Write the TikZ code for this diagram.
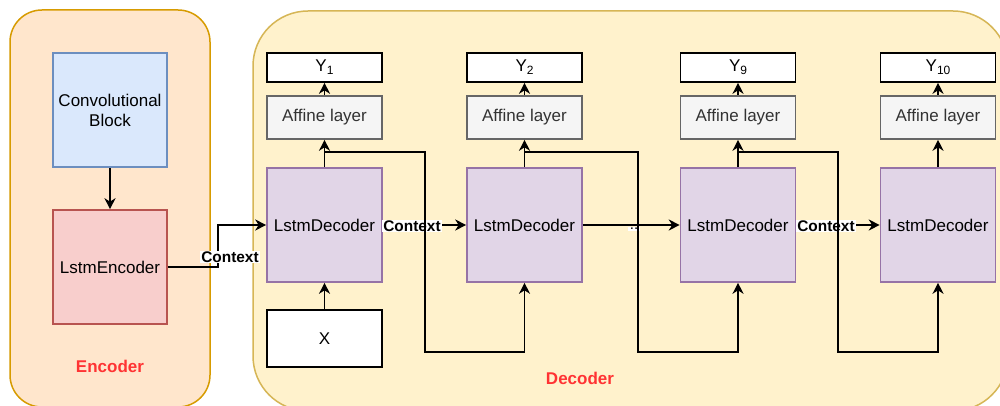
\documentclass[tikz,border=0pt]{standalone}
\usepackage{fontspec}
\setmainfont{Liberation Sans}
\usetikzlibrary{arrows.meta}
\definecolor{encfill}{HTML}{FFE6CC}
\definecolor{encline}{HTML}{D79B00}
\definecolor{decfill}{HTML}{FFF2CC}
\definecolor{decline}{HTML}{D6B656}
\definecolor{convfill}{HTML}{DAE8FC}
\definecolor{convline}{HTML}{6C8EBF}
\definecolor{lencfill}{HTML}{F8CECC}
\definecolor{lencline}{HTML}{B85450}
\definecolor{ldecfill}{HTML}{E1D5E7}
\definecolor{ldecline}{HTML}{9673A6}
\definecolor{afffill}{HTML}{F5F5F5}
\definecolor{affline}{HTML}{666666}
\definecolor{afftext}{HTML}{333333}
\definecolor{redlbl}{HTML}{FF3333}
\newcommand{\ysub}[1]{Y\raisebox{-0.35ex}{\fontsize{12}{13}\selectfont #1}}
\tikzset{
  mainfont/.style={font=\fontsize{17}{20}\selectfont},
  box/.style={draw, line width=1.6pt, minimum width=115pt, inner sep=0pt, align=center, mainfont},
  convbox/.style={box, fill=convfill, draw=convline, minimum width=114pt, minimum height=114pt},
  lencbox/.style={box, fill=lencfill, draw=lencline, minimum width=114pt, minimum height=114pt},
  ldecbox/.style={box, fill=ldecfill, draw=ldecline, minimum height=114pt},
  affbox/.style={box, fill=afffill, draw=affline, text=afftext, minimum height=43pt},
  ybox/.style={box, fill=white, draw=black, minimum height=29pt},
  xbox/.style={box, fill=white, draw=black, minimum height=57pt},
  arr/.style={line width=1.7pt, -{Stealth[length=11pt,width=11pt,inset=3.5pt]}},
  lbl/.style={fill=white, inner sep=1pt, font=\fontsize{15.4}{17}\selectfont\bfseries},
  grouplbl/.style={text=redlbl, font=\fontsize{17}{20}\selectfont\bfseries},
}
\begin{document}
\begin{tikzpicture}[x=1pt,y=-1pt]
\clip (0,0) rectangle (1000,406);
\fill[white] (0,0) rectangle (1000,406);
% containers
\draw[fill=encfill, draw=encline, line width=1.5pt, rounded corners=32pt] (10,10) rectangle (210,407);
\draw[fill=decfill, draw=decline, line width=1.5pt, rounded corners=55pt] (253,11) rectangle (1008,411);
\node[grouplbl] (enclbl) at (110,366) {Encoder};
\node[grouplbl] (declbl) at (580,378) {Decoder};
% encoder
\node[convbox] (conv) at (110,110) {Convolutional\\Block};
\node[lencbox] (lenc) at (110,267) {LstmEncoder};
\draw[arr] (conv.south) -- (lenc.north);
% decoder cells
\foreach \i/\x/\t in {1/324.5/1, 2/524.5/2, 3/738/9, 4/938/10} {
  \node[ldecbox] (dec\i) at (\x,225) {LstmDecoder};
  \node[affbox] (aff\i) at (\x,117.5) {Affine layer};
  \node[ybox] (y\i) at (\x,67.5) {\ysub{\t}};
  \draw[arr] (dec\i.north) -- (aff\i.south);
  \draw[arr] (aff\i.north) -- (y\i.south);
}
\node[xbox] (x) at (324.5,338.5) {X};
\draw[arr] (x.north) -- (dec1.south);
% context edges
\draw[arr] (lenc.east) -- ++(50,0) |- (dec1.west);
\node[lbl] (c0) at (230,257) {Context};
\draw[arr] (dec1.east) -- (dec2.west);
\node[lbl] (c1) at (412,226) {Context};
\draw[arr] (dec2.east) -- (dec3.west);
\node[fill=white, inner sep=1.5pt, font=\fontsize{15}{17}\selectfont] (dots) at (634,229) {..};
\draw[arr] (dec3.east) -- (dec4.west);
\node[lbl] (c3) at (826,226) {Context};
% feedback loops
\draw[arr] (dec1.north) ++(0,-15) -| (425,352) -| (dec2.south);
\draw[arr] (dec2.north) ++(0,-15) -| (638,352) -| (dec3.south);
\draw[arr] (dec3.north) ++(0,-15) -| (838,352) -| (dec4.south);
\end{tikzpicture}
\end{document}
